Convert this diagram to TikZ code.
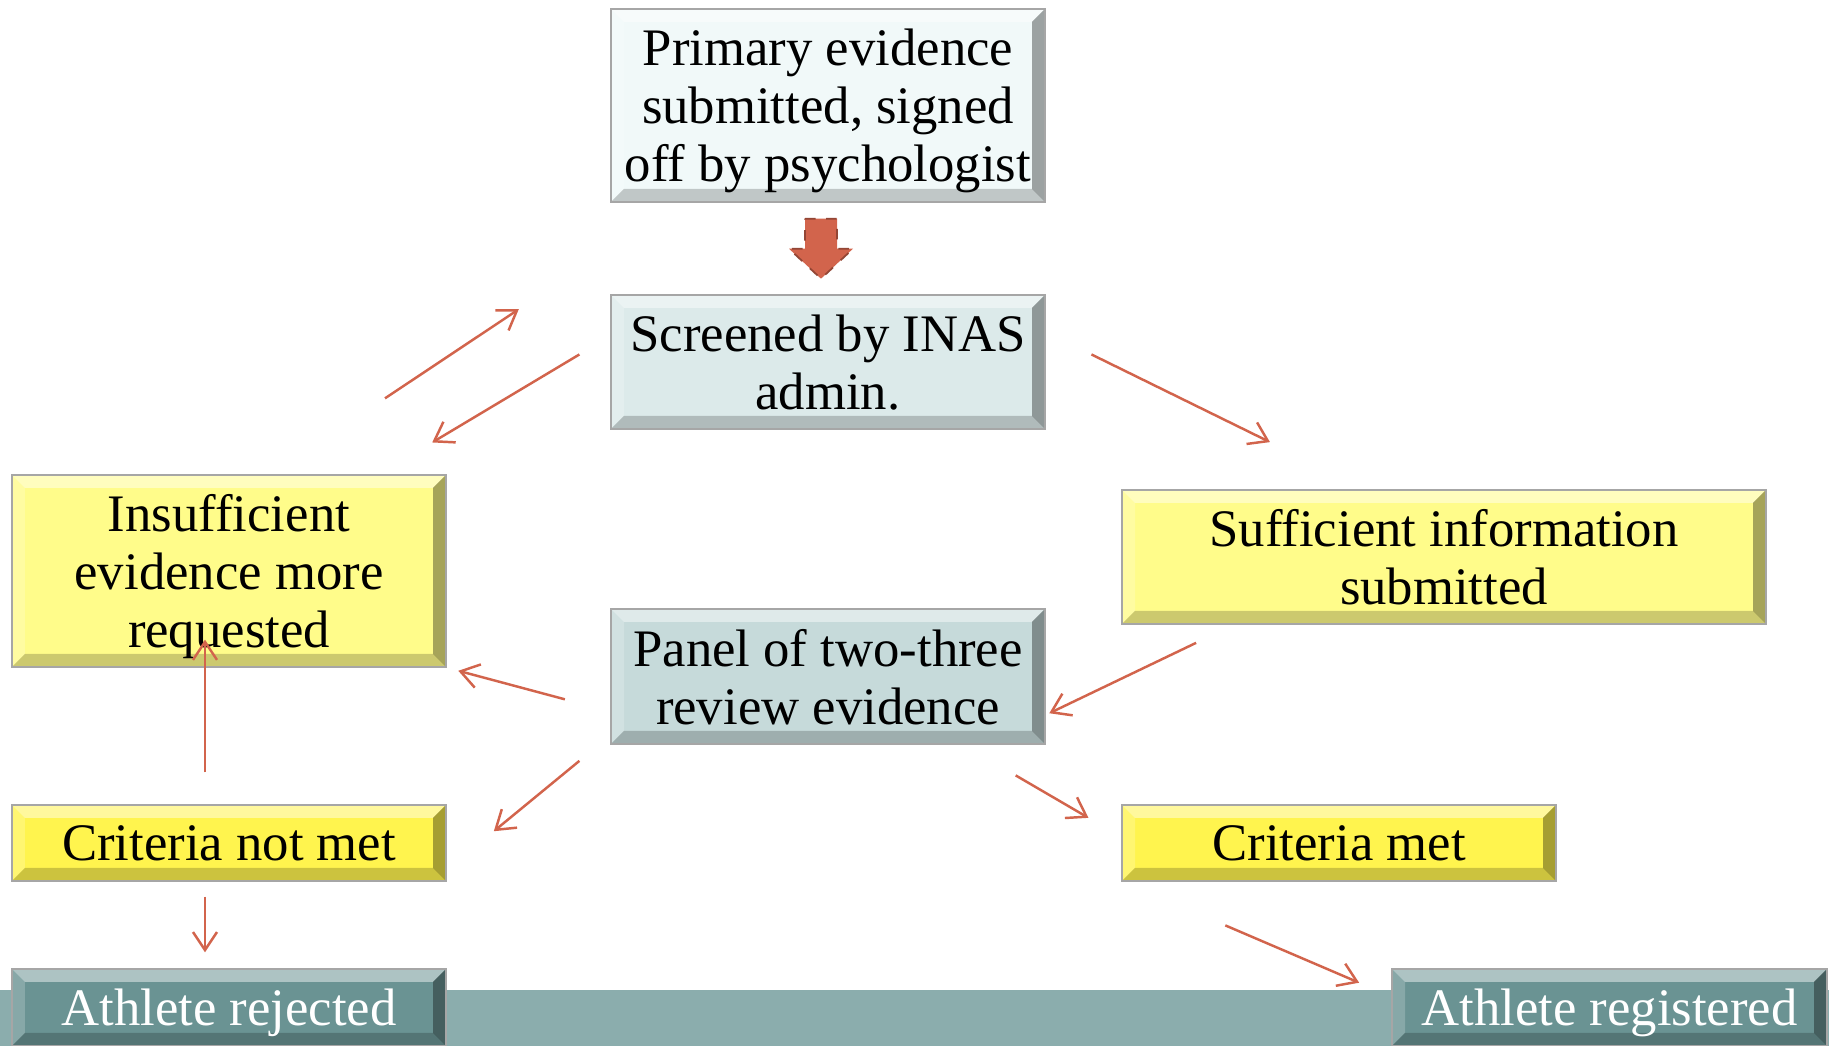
\documentclass[tikz,border=0pt]{standalone}
\usepackage{fontspec}
\setmainfont{Liberation Serif}
\usepackage{xcolor}
\usetikzlibrary{arrows.meta}

\definecolor{paleblue}{HTML}{F1F9F9}
\definecolor{greyblue}{HTML}{DCEAEA}
\definecolor{panelblue}{HTML}{C6DADA}
\definecolor{lightyellow}{HTML}{FFFC8A}
\definecolor{brightyellow}{HTML}{FFF44E}
\definecolor{darkteal}{HTML}{6A9393}
\definecolor{stripteal}{HTML}{8BADAD}
\definecolor{arrowred}{HTML}{D2644C}

\tikzset{
  bevel/.style={path picture={
    \coordinate (bl) at (path picture bounding box.south west);
    \coordinate (tr) at (path picture bounding box.north east);
    \coordinate (tl) at (bl|-tr);
    \coordinate (br) at (tr|-bl);
    \fill[white,opacity=.45] (tl) -- (tr) -- ([xshift=-1.3mm,yshift=-1.3mm]tr) -- ([xshift=1.3mm,yshift=-1.3mm]tl) -- cycle;
    \fill[white,opacity=.2] (tl) -- (bl) -- ([xshift=1.3mm,yshift=1.3mm]bl) -- ([xshift=1.3mm,yshift=-1.3mm]tl) -- cycle;
    \fill[black,opacity=.35] (tr) -- (br) -- ([xshift=-1.3mm,yshift=1.3mm]br) -- ([xshift=-1.3mm,yshift=-1.3mm]tr) -- cycle;
    \fill[black,opacity=.2] (bl) -- (br) -- ([xshift=-1.3mm,yshift=1.3mm]br) -- ([xshift=1.3mm,yshift=1.3mm]bl) -- cycle;
  }},
  box/.style={draw=black!35, line width=0.4pt, inner sep=0pt, align=center, text depth=0pt,
    minimum width=4.34cm, font=\fontsize{15}{16.5}\selectfont, bevel},
  endbox/.style={box, fill=darkteal, text=white, minimum height=0.77cm},
  link/.style={draw=arrowred, line width=0.7pt, -{Straight Barb[length=1.8mm,width=2.4mm]}},
  blockarrow/.style={fill=arrowred, draw=arrowred!70!black, dashed, line width=0.5pt}
}

\begin{document}
\begin{tikzpicture}
\useasboundingbox (0,0) rectangle (18.29,10.46);
\fill[white] (0,0) rectangle (18.29,10.46);
\fill[stripteal] (0,0) rectangle (18.29,0.56);

% boxes
\node[box, fill=paleblue, minimum height=1.93cm] (pri) at (8.28,9.405) {Primary evidence\\submitted, signed\\off by psychologist};
\node[box, fill=greyblue, minimum height=1.34cm] (scr) at (8.28,6.84) {Screened by INAS\\admin.};
\node[box, fill=lightyellow, minimum height=1.92cm] (ins) at (2.29,4.75) {Insufficient\\evidence more\\requested};
\node[box, fill=lightyellow, minimum width=6.44cm, minimum height=1.34cm] (suf) at (14.44,4.89) {Sufficient information\\submitted};
\node[box, fill=panelblue, minimum height=1.35cm] (pan) at (8.28,3.695) {Panel of two-three\\review evidence};
\node[box, fill=brightyellow, minimum height=0.76cm] (cnm) at (2.29,2.03) {Criteria not met};
\node[box, fill=brightyellow, minimum height=0.76cm] (cm) at (13.39,2.03) {Criteria met};
\node[endbox] (rej) at (2.29,0.385) {Athlete rejected};
\node[endbox, minimum width=4.35cm] (reg) at (16.095,0.385) {Athlete registered};

% fat arrow under the first box
\draw[blockarrow] ([xshift=-2.3mm,yshift=-1.6mm]pri.south) -- ++(0.32,0) -- ++(0,-0.30) -- ++(0.16,0)
  -- ++(-0.32,-0.30) -- ++(-0.32,0.30) -- ++(0.16,0) -- cycle;

% connectors
\draw[link, shorten <=13.7mm, shorten >=11.0mm] ([xshift=4.2mm]ins.north) -- ([yshift=4.6mm]scr.north west);
\draw[link, shorten <=3.6mm, shorten >=6.2mm] ([yshift=2.6mm]scr.west) -- ([xshift=15mm]ins.north);
\draw[link, shorten <=5.1mm, shorten >=10.7mm] ([yshift=3.0mm]scr.east) -- ([xshift=-7.8mm]suf.north);
\draw[link, shorten <=4.2mm, shorten >=0.4mm] ([xshift=-21mm]suf.south) -- ([yshift=-3.85mm]pan.east);
\draw[link, shorten <=4.7mm, shorten >=1.2mm] ([yshift=-3.5mm]pan.west) -- (ins.south east);
\draw[link, shorten <=4.0mm, shorten >=6.1mm] ([yshift=-5.9mm]pan.west) -- ([yshift=-2.7mm]cnm.east);
\draw[link, shorten <=6.1mm, shorten >=3.8mm] ([xshift=13.5mm]pan.south) -- ([yshift=0.6mm]cm.west);
\draw[link, shorten <=3.2mm, shorten >=-2.8mm] ([xshift=-2.4mm]cnm.north) -- ([xshift=-2.4mm]ins.south);
\draw[link, shorten <=1.5mm, shorten >=1.6mm] ([xshift=-2.4mm]cnm.south) -- ([xshift=-2.4mm]rej.north);
\draw[link, shorten <=11.1mm, shorten >=3.5mm] ([xshift=0.2mm]cm.south west) -- ([yshift=1.1mm]reg.west);
\end{tikzpicture}
\end{document}
